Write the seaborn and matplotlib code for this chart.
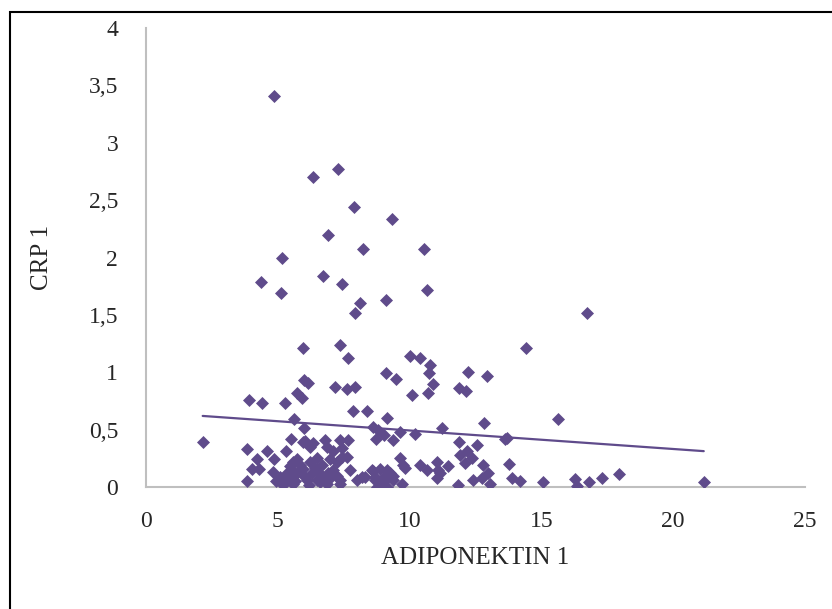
import numpy as np
import pandas as pd
import matplotlib.pyplot as plt
import seaborn as sns
from matplotlib.patches import Rectangle
from matplotlib.ticker import FuncFormatter

# Values (ADIPONEKTIN 1 vs CRP 1)
adiponektin = [
    4.86, 7.28, 6.34, 7.89, 9.33, 6.90, 8.23, 10.53, 5.16, 4.37,
    6.71, 7.42, 5.11, 10.65, 8.12, 7.92, 9.12, 16.73, 5.96, 7.36,
    14.40, 7.65, 10.03, 10.39, 10.79, 10.75, 9.12, 9.47, 5.98, 6.15,
    12.20, 12.95, 10.88, 7.17, 7.61, 7.93, 11.89, 12.13, 10.69, 10.09,
    5.74, 5.91, 3.90, 4.41, 5.26, 7.86, 8.37, 5.63, 9.13, 15.62,
    12.83, 6.01, 8.62, 8.81, 11.24, 9.64, 10.20, 9.04, 13.71, 13.61,
    5.50, 8.73, 6.79, 7.36, 7.67, 9.36, 2.15, 5.97, 6.03, 11.86,
    6.35, 12.55, 6.22, 6.85, 7.42, 3.84, 4.59, 5.31, 7.11, 12.17,
    11.91, 9.64, 4.20, 4.86, 5.72, 6.48, 6.98, 7.61, 7.42, 12.36,
    5.59, 6.22, 7.23, 11.03, 9.76, 9.82, 12.10, 13.77, 12.80, 5.84,
    6.67, 10.39, 5.46, 11.47, 4.29, 4.01, 5.97, 8.88, 10.65, 11.09,
    7.74, 8.56, 9.13, 7.11, 8.62, 4.83, 6.54, 5.34, 5.72, 6.29,
    6.92, 9.26, 11.15, 12.99, 17.94, 6.73, 8.18, 8.69, 8.30, 9.19,
    13.87, 7.23, 9.38, 17.29, 12.73, 11.03, 9.00, 16.29, 3.84, 4.93,
    5.34, 6.10, 6.48, 7.36, 7.99, 9.38, 8.69, 12.42, 14.19, 15.05,
    16.82, 21.16, 5.21, 5.59, 6.86, 7.36, 9.00, 9.70, 13.05, 11.85,
    16.36, 9.13, 8.75,
    # points hidden inside the dense cluster
    5.45, 5.65, 5.85, 6.05, 6.40, 6.60, 5.10, 6.20, 5.55, 6.95,
]
crp = [
    3.41, 2.77, 2.70, 2.44, 2.34, 2.20, 2.07, 2.07, 2.00, 1.79,
    1.84, 1.77, 1.69, 1.72, 1.60, 1.52, 1.63, 1.52, 1.21, 1.24,
    1.21, 1.12, 1.14, 1.12, 1.06, 0.99, 0.99, 0.94, 0.93, 0.91,
    1.00, 0.97, 0.90, 0.87, 0.85, 0.87, 0.86, 0.84, 0.82, 0.80,
    0.82, 0.78, 0.76, 0.73, 0.73, 0.66, 0.66, 0.59, 0.60, 0.59,
    0.56, 0.51, 0.52, 0.50, 0.51, 0.48, 0.46, 0.45, 0.43, 0.42,
    0.42, 0.42, 0.41, 0.41, 0.41, 0.41, 0.39, 0.39, 0.40, 0.39,
    0.38, 0.37, 0.35, 0.35, 0.34, 0.33, 0.31, 0.31, 0.31, 0.31,
    0.28, 0.25, 0.24, 0.24, 0.24, 0.25, 0.24, 0.26, 0.26, 0.25,
    0.22, 0.22, 0.22, 0.22, 0.19, 0.17, 0.21, 0.20, 0.19, 0.19,
    0.19, 0.19, 0.18, 0.18, 0.16, 0.16, 0.16, 0.16, 0.15, 0.15,
    0.15, 0.15, 0.15, 0.15, 0.14, 0.13, 0.13, 0.12, 0.12, 0.12,
    0.12, 0.12, 0.12, 0.12, 0.11, 0.09, 0.09, 0.09, 0.09, 0.09,
    0.08, 0.10, 0.10, 0.08, 0.08, 0.08, 0.08, 0.07, 0.05, 0.05,
    0.06, 0.06, 0.06, 0.06, 0.06, 0.06, 0.06, 0.06, 0.05, 0.04,
    0.04, 0.04, 0.02, 0.03, 0.03, 0.03, 0.03, 0.03, 0.03, 0.02,
    0.01, 0.00, 0.00,
    0.10, 0.05, 0.14, 0.09, 0.17, 0.04, 0.09, 0.02, 0.15, 0.07,
]

df = pd.DataFrame({'ADIPONEKTIN 1': adiponektin, 'CRP 1': crp})

sns.set_style("white")
plt.rcParams['font.family'] = ['Liberation Serif', 'DejaVu Serif']

purple = '#5F4B8B'

fig = plt.figure(figsize=(8.32, 6.09), dpi=100)
ax = fig.add_axes([0.1755, 0.2003, 0.792, 0.7537])

# Scatter with linear trendline (Excel style)
sns.regplot(x='ADIPONEKTIN 1', y='CRP 1', data=df, ax=ax, ci=None,
            marker='D', color=purple,
            scatter_kws={'s': 44, 'linewidths': 0, 'alpha': 1, 'zorder': 3},
            line_kws={'lw': 1.6, 'zorder': 2})

ax.set_xlim(0, 25)
ax.set_ylim(0, 4)
ax.set_xticks(np.arange(0, 26, 5))
ax.set_yticks(np.arange(0, 4.01, 0.5))
ax.yaxis.set_major_formatter(FuncFormatter(lambda v, p: f'{v:g}'.replace('.', ',')))
ax.tick_params(axis='both', length=0, labelsize=17)
ax.tick_params(axis='x', pad=17)
ax.tick_params(axis='y', pad=20)
ax.set_xlabel('ADIPONEKTIN 1', fontsize=18, labelpad=11)
ax.set_ylabel('CRP 1', fontsize=18, labelpad=26)

for side in ['top', 'right']:
    ax.spines[side].set_visible(False)
for side in ['left', 'bottom']:
    ax.spines[side].set_color('#BFBFBF')
    ax.spines[side].set_linewidth(1.5)

# Outer frame, cut off at the right and bottom like the screenshot
fig.add_artist(Rectangle((10 / 832, -0.5), 1.5, 1.5 - 12 / 609,
                         transform=fig.transFigure, fill=False,
                         edgecolor='black', lw=1.5))

fig.savefig('out.png', dpi=100)
